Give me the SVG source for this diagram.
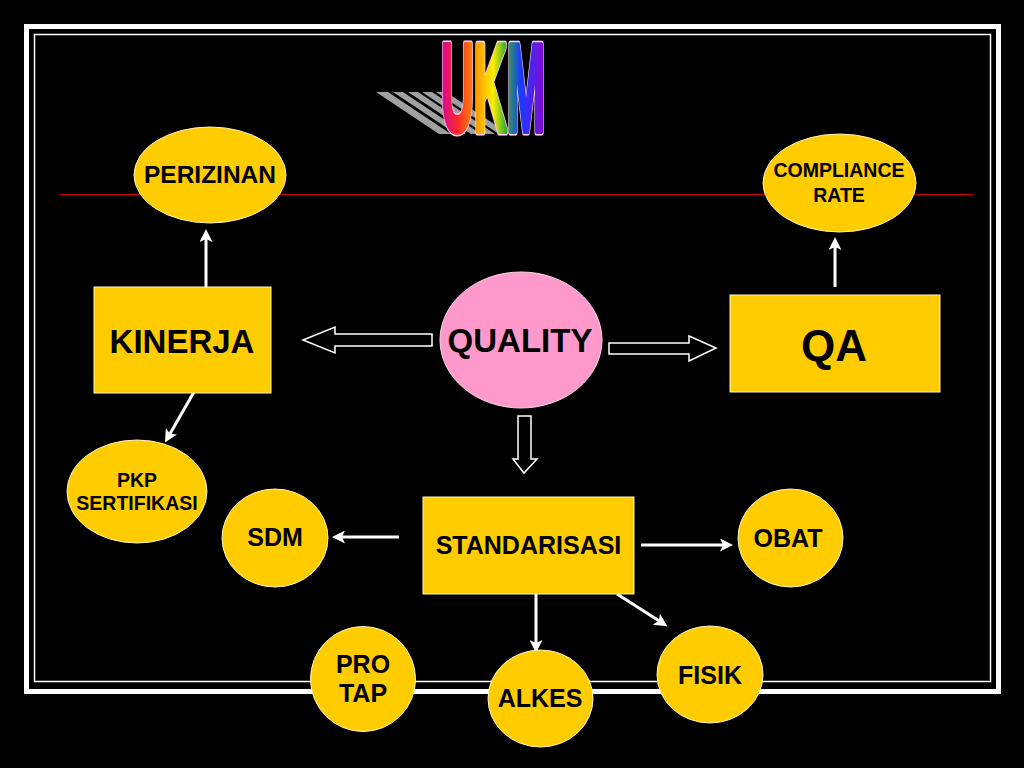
<svg xmlns="http://www.w3.org/2000/svg" width="1024" height="768" viewBox="0 0 1024 768">
<defs>
<style>
.node{fill:#FFCC00;stroke:#FFF3C0;stroke-width:1}
.t{font-family:"Liberation Sans",Arial,sans-serif;font-weight:bold;fill:#000;text-anchor:middle}
.line{stroke:#fff;stroke-width:3;fill:none}
.block{fill:#000;stroke:#fff;stroke-width:1.5}
.ukm{font-family:"Liberation Sans",Arial,sans-serif;font-weight:bold;font-size:124px}
</style>
<marker id="ah" markerWidth="13" markerHeight="13" refX="9" refY="6.5" orient="auto" markerUnits="userSpaceOnUse" viewBox="0 0 13 13">
<path d="M0,0 L13,6.5 L0,13 L3,6.5 Z" fill="#fff"/>
</marker>
<linearGradient id="rb" gradientUnits="userSpaceOnUse" x1="438" y1="0" x2="548" y2="0">
<stop offset="0" stop-color="#cc00aa"/>
<stop offset="0.18" stop-color="#ff2a2a"/>
<stop offset="0.35" stop-color="#ff9900"/>
<stop offset="0.5" stop-color="#ffee00"/>
<stop offset="0.62" stop-color="#33aa33"/>
<stop offset="0.75" stop-color="#1a3aff"/>
<stop offset="1" stop-color="#9900cc"/>
</linearGradient>
</defs>
<rect width="1024" height="768" fill="#000"/>
<g id="frame">
<rect x="26.5" y="26.5" width="972" height="665" fill="none" stroke="#fff" stroke-width="5"/>
<rect x="34.5" y="34.5" width="956" height="647" fill="none" stroke="#fff" stroke-width="1.5"/>
<line x1="60" y1="194.5" x2="973" y2="194.5" stroke="#cc0000" stroke-width="1"/>
</g>
<g id="title">
<g fill="#a0a0a0">
<polygon points="376,92 388,92 451,134 439,134"/>
<polygon points="393,92 403,92 466,134 456,134"/>
<polygon points="408,92 418,92 481,134 471,134"/>
<polygon points="422,92 432,92 495,134 485,134"/>
<polygon points="436,92 446,92 509,134 499,134"/>
</g>
<text class="ukm" x="441" y="131" textLength="104" lengthAdjust="spacingAndGlyphs" fill="none" stroke="#ffd0ff" stroke-width="9" stroke-linejoin="round">UKM</text>
<text class="ukm" x="441" y="131" textLength="104" lengthAdjust="spacingAndGlyphs" fill="url(#rb)" stroke="url(#rb)" stroke-width="6" stroke-linejoin="round">UKM</text>
</g>
<g id="connectors">
<line class="line" x1="206" y1="287" x2="206" y2="233" marker-end="url(#ah)"/>
<line class="line" x1="835" y1="287" x2="835" y2="241" marker-end="url(#ah)"/>
<line class="line" x1="198" y1="385" x2="167" y2="439" marker-end="url(#ah)"/>
<line class="line" x1="399" y1="537" x2="336" y2="537" marker-end="url(#ah)"/>
<line class="line" x1="641" y1="545" x2="729" y2="545" marker-end="url(#ah)"/>
<line class="line" x1="536" y1="594" x2="536" y2="649" marker-end="url(#ah)"/>
<line class="line" x1="617" y1="594" x2="664" y2="624" marker-end="url(#ah)"/>
<polygon class="block" points="432,334 335,334 335,327 303,340 335,353 335,346 432,346"/>
<polygon class="block" points="609,343 689,343 689,336 716,348 689,361 689,354 609,354"/>
<polygon class="block" points="518,416 531,416 531,459 537,459 524,473 513,459 518,459"/>
</g>
<g id="perizinan"><ellipse class="node" cx="210" cy="175" rx="76" ry="48"/><text class="t" x="210" y="183" font-size="24.5">PERIZINAN</text></g>
<g id="compliance"><ellipse class="node" cx="839.5" cy="183" rx="76.5" ry="49"/><text class="t" x="839" y="177" font-size="19.5">COMPLIANCE</text><text class="t" x="839" y="202" font-size="19.5">RATE</text></g>
<g id="kinerja"><rect class="node" x="94" y="287" width="177" height="106"/><text class="t" x="182" y="353" font-size="33">KINERJA</text></g>
<g id="quality"><ellipse cx="521" cy="340" rx="81" ry="68" fill="#FF99CC" stroke="#ffd6ea" stroke-width="1"/><text class="t" x="520" y="352" font-size="33">QUALITY</text></g>
<g id="qa"><rect class="node" x="730" y="295" width="210" height="97"/><text class="t" x="834" y="361" font-size="44">QA</text></g>
<g id="pkp"><ellipse class="node" cx="137" cy="491.5" rx="70" ry="51.5"/><text class="t" x="137" y="487" font-size="19.5">PKP</text><text class="t" x="137" y="510" font-size="19.5">SERTIFIKASI</text></g>
<g id="standarisasi"><rect class="node" x="423" y="497" width="211" height="97"/><text class="t" x="528.5" y="554" font-size="25">STANDARISASI</text></g>
<g id="sdm"><ellipse class="node" cx="275" cy="538" rx="53" ry="49"/><text class="t" x="275" y="546" font-size="25">SDM</text></g>
<g id="obat"><ellipse class="node" cx="790.5" cy="538" rx="52.5" ry="49"/><text class="t" x="788" y="547" font-size="25">OBAT</text></g>
<g id="protap"><ellipse class="node" cx="363" cy="679" rx="52.5" ry="52.5"/><text class="t" x="363" y="673" font-size="25">PRO</text><text class="t" x="363" y="702" font-size="25">TAP</text></g>
<g id="alkes"><ellipse class="node" cx="540.5" cy="698.5" rx="52.5" ry="48.5"/><text class="t" x="540" y="707" font-size="25">ALKES</text></g>
<g id="fisik"><ellipse class="node" cx="710" cy="674.5" rx="53" ry="48.5"/><text class="t" x="710" y="684" font-size="25">FISIK</text></g>
</svg>
